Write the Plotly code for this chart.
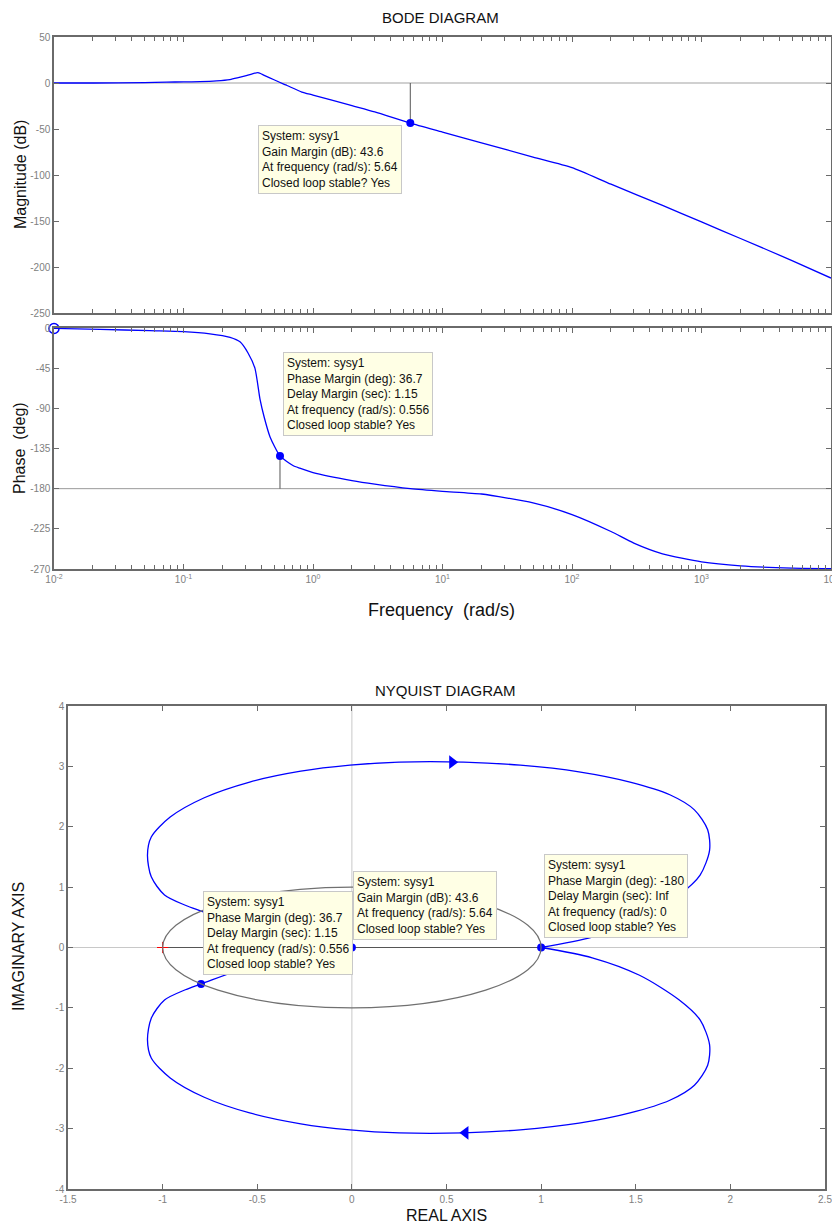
import plotly.graph_objects as go

# ---------------- Data ----------------
# Bode magnitude
mag_freq = [0.01, 0.02, 0.05, 0.074, 0.1, 0.134, 0.18, 0.228, 0.26, 0.3, 0.34, 0.376,
            0.42, 0.5, 0.6, 0.63, 0.82, 1, 2, 3, 5.64, 10, 20, 50, 100, 200, 500,
            1000, 2000, 5000, 10000]
mag_db = [0, 0, 0.4, 1.0, 1.2, 1.5, 2.3, 3.7, 5.5, 7.8, 10.0, 11.2,
          8.3, 3.5, -1.5, -2.7, -9.8, -13.1, -24.7, -31.5, -43.6, -53.3, -65, -80.5, -92, -110, -133,
          -151, -169, -193, -212]

# Bode phase
phase_freq = [0.01, 0.0227, 0.055, 0.1, 0.16, 0.229, 0.273, 0.315, 0.356, 0.39, 0.42, 0.466,
              0.556, 0.7, 0.79, 1, 2, 3, 5.64, 10, 20, 50, 100, 200, 300, 500, 1000, 2000,
              5000, 10000]
phase_deg = [-0.5, -1.5, -3, -4, -6.5, -10.5, -15.5, -28, -45, -80, -100, -122,
             -143.3, -154, -157, -162, -171, -175, -180, -183, -186, -196, -209, -228, -241, -253,
             -262, -266.5, -269, -269.5]

# Margins
gm_freq, gm_db = 5.64, -43.6
pm_freq, pm_deg = 0.556, -143.3

# Nyquist, positive-frequency branch (lower loop); upper loop is its conjugate
nyq_re = [1.0, 1.27, 1.52, 1.73, 1.84, 1.89, 1.88, 1.81, 1.68, 1.47, 1.2, 0.89, 0.59,
          0.25, -0.01, -0.27, -0.54, -0.78, -0.96, -1.06, -1.08, -1.06, -0.99, -0.88,
          -0.797, -0.45, -0.2, -0.05, 0.0]
nyq_im = [0.0, -0.17, -0.46, -0.87, -1.2, -1.61, -1.95, -2.28, -2.53, -2.74, -2.91, -3.02, -3.07,
          -3.07, -3.02, -2.92, -2.74, -2.48, -2.16, -1.83, -1.53, -1.17, -0.87, -0.7,
          -0.604, -0.22, -0.06, -0.01, 0.0]
nyq_pts_re = [1.0, 0.0, -0.797]
nyq_pts_im = [0.0, 0.0, -0.604]
arrow_up = (0.53, 3.07)
arrow_dn = (0.60, -3.07)

freq_ticks = [0.01, 0.1, 1, 10, 100, 1000, 10000]
freq_ticktext = ["10<sup>-2</sup>", "10<sup>-1</sup>", "10<sup>0</sup>", "10<sup>1</sup>",
                 "10<sup>2</sup>", "10<sup>3</sup>", "10<sup>4</sup>"]
mag_ticks = [50, 0, -50, -100, -150, -200, -250]
mag_ticktext = ["50", "0", "-50", "-100", "-150", "-200", "-250"]
phase_ticks = [0, -45, -90, -135, -180, -225, -270]
phase_ticktext = ["0", "-45", "-90", "-135", "-180", "-225", "-270"]
re_ticks = [-1.5, -1, -0.5, 0, 0.5, 1, 1.5, 2, 2.5]
re_ticktext = ["-1.5", "-1", "-0.5", "0", "0.5", "1", "1.5", "2", "2.5"]
im_ticks = [4, 3, 2, 1, 0, -1, -2, -3, -4]
im_ticktext = ["4", "3", "2", "1", "0", "-1", "-2", "-3", "-4"]

box_mag = "System: sysy1<br>Gain Margin (dB): 43.6<br>At frequency (rad/s): 5.64<br>Closed loop stable? Yes"
box_ph = ("System: sysy1<br>Phase Margin (deg): 36.7<br>Delay Margin (sec): 1.15<br>"
          "At frequency (rad/s): 0.556<br>Closed loop stable? Yes")
box_n1 = box_ph
box_n2 = box_mag
box_n3 = ("System: sysy1<br>Phase Margin (deg): -180<br>Delay Margin (sec): Inf<br>"
          "At frequency (rad/s): 0<br>Closed loop stable? Yes")

# ---------------- Layout helpers ----------------
# The page body has an 8px margin, so the figure is placed 8px in from the top-left.
OFF = 8
W, H = 840 - OFF, 1231 - 2 * OFF
def PX(x):
    return (x - OFF) / W
def PY(y):
    return 1 - (y - OFF) / H

BLUE = "#0000FF"
AX = "#6a6a6a"
TICKFONT = dict(family="Liberation Sans Narrow, Arial Narrow, Liberation Sans, Arial", size=10, color="#808080")

fig = go.Figure()

LINE = dict(color=BLUE, width=1.3, shape="spline", smoothing=0.6)

# Magnitude
fig.add_trace(go.Scatter(x=mag_freq, y=mag_db, mode="lines", line=LINE, xaxis="x", yaxis="y"))
fig.add_trace(go.Scatter(x=[gm_freq, gm_freq], y=[0, gm_db], mode="lines",
                         line=dict(color="#555", width=1), xaxis="x", yaxis="y"))
fig.add_trace(go.Scatter(x=[gm_freq], y=[gm_db], mode="markers",
                         marker=dict(color=BLUE, size=8), xaxis="x", yaxis="y"))

# Phase
fig.add_trace(go.Scatter(x=phase_freq, y=phase_deg, mode="lines", line=LINE, xaxis="x2", yaxis="y2"))
fig.add_trace(go.Scatter(x=[pm_freq, pm_freq], y=[pm_deg, -180], mode="lines",
                         line=dict(color="#555", width=1), xaxis="x2", yaxis="y2"))
fig.add_trace(go.Scatter(x=[pm_freq], y=[pm_deg], mode="markers",
                         marker=dict(color=BLUE, size=8), xaxis="x2", yaxis="y2"))
fig.add_trace(go.Scatter(x=[phase_freq[0]], y=[phase_deg[0]], mode="markers",
                         marker=dict(color=BLUE, size=10, symbol="circle-open", line=dict(width=1.5)),
                         xaxis="x2", yaxis="y2", cliponaxis=False))

# Nyquist
NLINE = dict(color=BLUE, width=1.3, shape="spline", smoothing=0.8)
fig.add_trace(go.Scatter(x=nyq_re, y=nyq_im, mode="lines", line=NLINE, xaxis="x3", yaxis="y3"))
fig.add_trace(go.Scatter(x=nyq_re, y=[-v for v in nyq_im], mode="lines", line=NLINE,
                         xaxis="x3", yaxis="y3"))
fig.add_trace(go.Scatter(x=[-1, 1], y=[0, 0], mode="lines", line=dict(color="#555", width=1.2),
                         xaxis="x3", yaxis="y3"))
fig.add_trace(go.Scatter(x=nyq_pts_re, y=nyq_pts_im, mode="markers",
                         marker=dict(color=BLUE, size=8), xaxis="x3", yaxis="y3"))
fig.add_trace(go.Scatter(x=[-1], y=[0], mode="markers",
                         marker=dict(color="red", size=8, symbol="cross-thin", line=dict(color="red", width=1)),
                         xaxis="x3", yaxis="y3"))
fig.add_trace(go.Scatter(x=[arrow_up[0]], y=[arrow_up[1]], mode="markers",
                         marker=dict(color=BLUE, size=12, symbol="triangle-right"), xaxis="x3", yaxis="y3"))
fig.add_trace(go.Scatter(x=[arrow_dn[0]], y=[arrow_dn[1]], mode="markers",
                         marker=dict(color=BLUE, size=12, symbol="triangle-left"), xaxis="x3", yaxis="y3"))

minor_log = [m * 10 ** e for e in range(-2, 4) for m in range(2, 10)]

common = dict(showline=True, linecolor=AX, linewidth=1.5, mirror="ticks", ticks="inside",
              ticklen=5, tickcolor=AX, tickfont=TICKFONT, showgrid=False, zeroline=False,
              automargin=False, ticklabeloverflow="allow")

fig.update_layout(
    width=W, height=H, autosize=False,
    margin=dict(l=0, r=0, t=0, b=0, pad=0),
    paper_bgcolor="white", plot_bgcolor="white",
    showlegend=False, hovermode=False,
    xaxis=dict(type="log", range=[-2, 4], domain=[PX(54), PX(831)], anchor="y",
               tickvals=freq_ticks, showticklabels=False,
               minor=dict(tickvals=minor_log, ticks="inside", ticklen=4, tickcolor=AX), **common),
    yaxis=dict(range=[-250, 50], domain=[PY(313), PY(37)], anchor="x", tickvals=mag_ticks,
               ticktext=mag_ticktext, **common),
    xaxis2=dict(type="log", range=[-2, 4], domain=[PX(54), PX(831)], anchor="y2",
                tickvals=freq_ticks, ticktext=freq_ticktext,
                minor=dict(tickvals=minor_log, ticks="inside", ticklen=4, tickcolor=AX), **common),
    yaxis2=dict(range=[-270, 0], domain=[PY(569), PY(328)], anchor="x2", tickvals=phase_ticks,
                ticktext=phase_ticktext, **common),
    xaxis3=dict(range=[-1.5, 2.5], domain=[PX(68), PX(825)], anchor="y3",
                tickvals=re_ticks, ticktext=re_ticktext, **common),
    yaxis3=dict(range=[-4, 4], domain=[PY(1189), PY(706)], anchor="x3", tickvals=im_ticks,
                ticktext=im_ticktext, **common),
)

# reference lines
fig.add_shape(type="line", xref="x domain", yref="y", x0=0, x1=1, y0=0, y1=0,
              line=dict(color="#c0c0c0", width=1.5), layer="below")
fig.add_shape(type="line", xref="x2 domain", yref="y2", x0=0, x1=1, y0=-180, y1=-180,
              line=dict(color="#9a9a9a", width=1), layer="below")
fig.add_shape(type="line", xref="x3 domain", yref="y3", x0=0, x1=1, y0=0, y1=0,
              line=dict(color="#c8c8c8", width=1), layer="below")
fig.add_shape(type="line", xref="x3", yref="y3 domain", x0=0, x1=0, y0=0, y1=1,
              line=dict(color="#c8c8c8", width=1), layer="below")
fig.add_shape(type="circle", xref="x3", yref="y3", x0=-1, x1=1, y0=-1, y1=1,
              line=dict(color="#707070", width=1.2), layer="above")

ann = []
def title(text, x, y, size=16, angle=0, family="Liberation Sans Narrow, Arial Narrow, Liberation Sans"):
    ann.append(dict(text=text, x=PX(x), y=PY(y), xref="paper", yref="paper", showarrow=False,
                    xanchor="center", yanchor="middle", textangle=angle,
                    font=dict(family=family, size=size, color="#111")))

title("BODE DIAGRAM", 440, 18, size=15)
title("Magnitude (dB)", 20, 175, size=16, angle=-90, family="Liberation Sans, Arial")
title("Phase  (deg)", 19, 448, size=16, angle=-90, family="Liberation Sans, Arial")
title("Frequency  (rad/s)", 441, 610, size=18)
title("NYQUIST DIAGRAM", 445, 690, size=15)
title("IMAGINARY AXIS", 18, 947, size=16, angle=-90)
title("REAL AXIS", 446, 1215, size=16)

def box(text, x, y):
    ann.append(dict(text=text, x=PX(x), y=PY(y), xref="paper", yref="paper", showarrow=False,
                    xanchor="left", yanchor="top", align="left",
                    bgcolor="#FFFFE5", bordercolor="#c8c8c8", borderwidth=1, borderpad=3,
                    font=dict(family="Liberation Sans, Arial", size=12, color="#111")))

box(box_mag, 258, 125)
box(box_ph, 283, 352)
box(box_n1, 203, 891)
box(box_n2, 353, 871)
box(box_n3, 544, 854)

fig.update_layout(annotations=ann)

fig.write_html("out.html")
